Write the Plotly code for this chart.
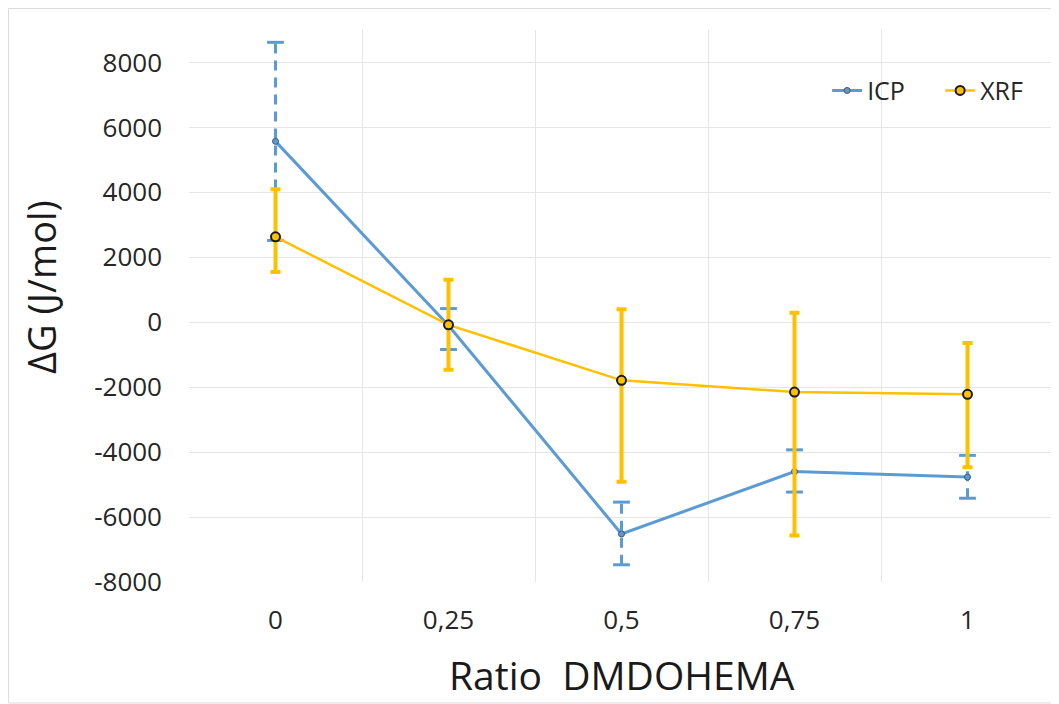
import plotly.graph_objects as go

# ---- data ----
categories = ["0", "0,25", "0,5", "0,75", "1"]
icp_values = [5570, -100, -6520, -4600, -4770]
icp_err_plus = [3050, 520, 980, 670, 670]
icp_err_minus = [3050, 740, 950, 630, 650]
xrf_values = [2630, -80, -1790, -2150, -2220]
xrf_err_plus = [1465, 1390, 2190, 2440, 1580]
xrf_err_minus = [1080, 1380, 3120, 4420, 2245]
y_tick_vals = [-8000, -6000, -4000, -2000, 0, 2000, 4000, 6000, 8000]
y_tick_text = ["-8000", "-6000", "-4000", "-2000", "0", "2000", "4000", "6000", "8000"]

ICP_COLOR = "#5B9BD5"
XRF_COLOR = "#FFC000"
FONT = "Open Sans"

# the page body has an 8px margin, so the figure is 8px smaller than the window
W, H = 1051, 696
L, R, T, B = 181, 5, 22, 122
PW, PH = W - L - R, H - T - B

fig = go.Figure()

# ICP dashed error bars (vertical part)
ex, ey = [], []
for c, v, p, m in zip(categories, icp_values, icp_err_plus, icp_err_minus):
    ex += [c, c, None]
    ey += [v - m, v + p, None]
fig.add_trace(go.Scatter(x=ex, y=ey, mode="lines", showlegend=False, hoverinfo="skip",
                         line=dict(color=ICP_COLOR, width=3, dash="10px,7px")))
# ICP error caps
cx, cy = [], []
for c, v, p, m in zip(categories, icp_values, icp_err_plus, icp_err_minus):
    cx += [c, c]
    cy += [v - m, v + p]
fig.add_trace(go.Scatter(x=cx, y=cy, mode="markers", showlegend=False, hoverinfo="skip",
                         marker=dict(symbol="line-ew-open", size=12, color=ICP_COLOR,
                                     line=dict(color=ICP_COLOR, width=3))))

# ICP line
fig.add_trace(go.Scatter(x=categories, y=icp_values, mode="lines+markers", name="ICP",
                         line=dict(color=ICP_COLOR, width=3),
                         marker=dict(symbol="circle", size=6, color=ICP_COLOR,
                                     line=dict(color="#44546A", width=1))))

# XRF line with error bars
fig.add_trace(go.Scatter(x=categories, y=xrf_values, mode="lines+markers", name="XRF",
                         line=dict(color=XRF_COLOR, width=2.5),
                         marker=dict(symbol="circle", size=9, color=XRF_COLOR,
                                     line=dict(color="#1a1a1a", width=2)),
                         error_y=dict(type="data", symmetric=False,
                                      array=xrf_err_plus, arrayminus=xrf_err_minus,
                                      color=XRF_COLOR, thickness=4, width=5)))

fig.update_layout(
    width=W, height=H,
    margin=dict(l=L, r=R, t=T, b=B),
    paper_bgcolor="white", plot_bgcolor="white",
    font=dict(family=FONT, color="#262626"),
    showlegend=True,
    legend=dict(orientation="h", x=0.999, xanchor="right", y=0.89, yanchor="middle",
                entrywidth=68, entrywidthmode="pixels",
                bgcolor="rgba(0,0,0,0)", font=dict(size=25, family=FONT, color="#262626")),
    xaxis=dict(type="category", range=[-0.5, 4.5], tickson="boundaries",
               showgrid=True, gridcolor="#e6e6e6", gridwidth=1, ticks="",
               tickfont=dict(size=26, family=FONT, color="#262626"),
               ticklabelstandoff=20, showline=False, zeroline=False),
    yaxis=dict(range=[-8000, 9000], tickvals=y_tick_vals, ticktext=y_tick_text,
               showgrid=True, gridcolor="#e6e6e6", gridwidth=1, ticks="",
               tickfont=dict(size=26, family=FONT, color="#262626"),
               ticklabelstandoff=26, zeroline=False, showline=False),
    annotations=[
        dict(text="Ratio  DMDOHEMA", xref="paper", yref="paper",
             x=0.5, y=-0.167, xanchor="center", yanchor="middle", showarrow=False,
             font=dict(size=39, family=FONT, color="#1a1a1a")),
        dict(text="ΔG (J/mol)", xref="paper", yref="paper", textangle=-90,
             x=-0.172, y=0.535, xanchor="center", yanchor="middle", showarrow=False,
             font=dict(size=38, family=FONT, color="#1a1a1a")),
    ],
    shapes=[
        dict(type="rect", xref="paper", yref="paper",
             x0=(0.5 - L) / PW, x1=(W - 2 - L) / PW,
             y0=(H - T - B - (H - 1 - T)) / PH, y1=(H - B - 0.5) / PH,
             line=dict(color="#dcdcdc", width=1), layer="below"),
    ],
)

fig.write_html("out.html")
